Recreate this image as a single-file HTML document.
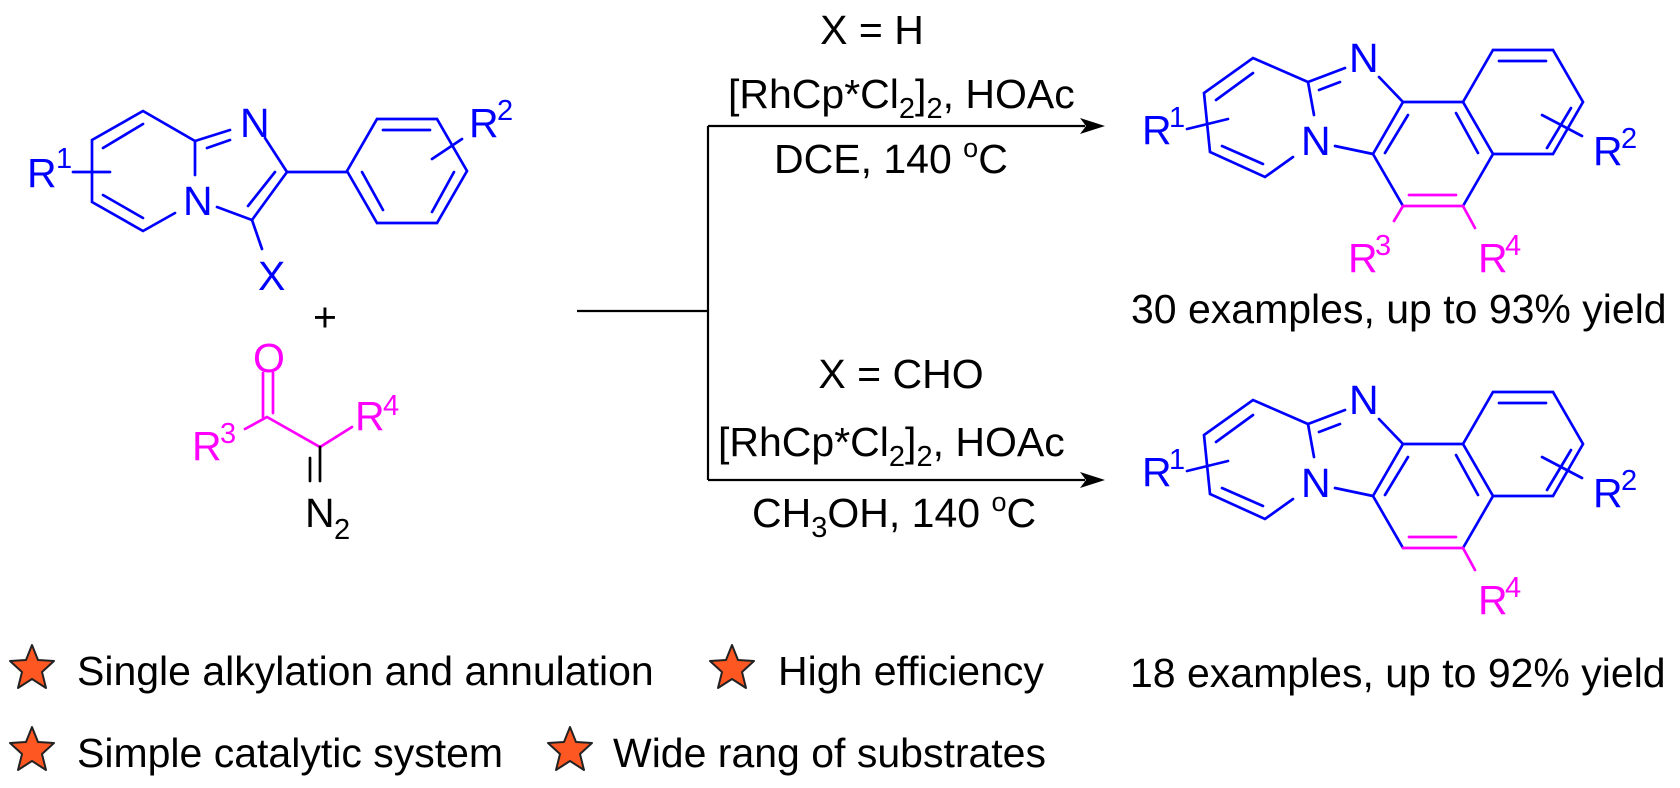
<!DOCTYPE html>
<html><head><meta charset="utf-8"><style>
html,body{margin:0;padding:0;background:#fff;}
svg{display:block;}
text{font-family:"Liberation Sans",Arial,sans-serif;}
</style></head><body>
<svg width="1680" height="788" viewBox="0 0 1680 788" xmlns="http://www.w3.org/2000/svg">
<defs>
<g id="star">
<polygon points="0,-23 6,-8 22,-7 10,4 14,20 0,11 -14,20 -10,4 -22,-7 -6,-8" fill="#ff5722" stroke="#222" stroke-width="2" stroke-linejoin="round"/>
</g>
</defs>

<!-- LEFT reactant 1 -->
<g stroke="#0000ff" stroke-width="2.7" fill="none" stroke-linecap="round">
<polyline points="195,141 143,111 92,140 92,202 143,231 175,213"/>
<line x1="195" y1="141" x2="195" y2="175"/>
<line x1="195" y1="141" x2="230" y2="130"/>
<line x1="207" y1="148" x2="230" y2="140"/>
<line x1="103" y1="148" x2="143" y2="124"/>
<line x1="103" y1="195" x2="143" y2="218"/>
<line x1="265" y1="138" x2="287" y2="172"/>
<line x1="287" y1="172" x2="252" y2="220"/>
<line x1="275" y1="172" x2="248" y2="206"/>
<line x1="217" y1="207" x2="252" y2="220"/>
<line x1="252" y1="220" x2="262" y2="249"/>
<line x1="287" y1="172" x2="347" y2="172"/>
<line x1="73" y1="172" x2="110" y2="172"/>
<polygon points="347,171 377,119 437,119 467,171 437,223 377,223"/>
<line x1="383" y1="130" x2="430" y2="130"/>
<line x1="362" y1="172" x2="383" y2="210"/>
<line x1="454" y1="172" x2="432" y2="212"/>
<line x1="432" y1="159" x2="462" y2="139"/>
</g>
<g fill="#0000ff" font-size="41">
<text x="240" y="137">N</text>
<text x="183" y="215">N</text>
<text x="258" y="290">X</text>
<text x="27" y="187">R</text><text x="56" y="168" font-size="29">1</text>
<text x="469" y="137">R</text><text x="497" y="120" font-size="29">2</text>
</g>
<text x="325" y="331" font-size="41" text-anchor="middle">+</text>

<!-- diazo -->
<g stroke="#ff00ff" stroke-width="2.7" fill="none" stroke-linecap="round">
<line x1="263" y1="373" x2="263" y2="417"/>
<line x1="273" y1="373" x2="273" y2="413"/>
<polyline points="245,429 267,417 320,447 352,427"/>
</g>
<g stroke="#000" stroke-width="2.7" stroke-linecap="round">
<line x1="320" y1="447" x2="320" y2="481"/>
<line x1="310" y1="458" x2="310" y2="481"/>
</g>
<g fill="#ff00ff" font-size="41">
<text x="253" y="372">O</text>
<text x="192" y="460">R</text><text x="220" y="443" font-size="29">3</text>
<text x="355" y="430">R</text><text x="383" y="415" font-size="29">4</text>
</g>
<text x="305" y="527" font-size="41">N</text><text x="334" y="539" font-size="29">2</text>

<!-- arrows -->
<g stroke="#000" stroke-width="2.2" fill="none">
<line x1="577" y1="311" x2="708" y2="311"/>
<line x1="708" y1="126" x2="708" y2="480"/>
<line x1="708" y1="126" x2="1085" y2="126"/>
<line x1="708" y1="480" x2="1085" y2="480"/>
</g>
<polygon points="1105,126 1080,118 1086,126 1080,134" fill="#000"/>
<polygon points="1105,480 1080,472 1086,480 1080,488" fill="#000"/>

<g font-size="41" fill="#000">
<text x="872" y="44" text-anchor="middle">X = H</text>
<text x="728" y="108">[RhCp*Cl<tspan font-size="29" dy="10">2</tspan><tspan dy="-10">]</tspan><tspan font-size="29" dy="10">2</tspan><tspan dy="-10">, HOAc</tspan></text>
<text x="774" y="173">DCE, 140 <tspan font-size="27" dy="-16">o</tspan><tspan dy="16">C</tspan></text>
<text x="901" y="388" text-anchor="middle">X = CHO</text>
<text x="718" y="456">[RhCp*Cl<tspan font-size="29" dy="10">2</tspan><tspan dy="-10">]</tspan><tspan font-size="29" dy="10">2</tspan><tspan dy="-10">, HOAc</tspan></text>
<text x="752" y="527">CH<tspan font-size="29" dy="10">3</tspan><tspan dy="-10">OH, 140 </tspan><tspan font-size="27" dy="-16">o</tspan><tspan dy="16">C</tspan></text>
<text x="1131" y="323">30 examples, up to 93% yield</text>
<text x="1130" y="687">18 examples, up to 92% yield</text>
</g>

<!-- product template -->
<g id="prod">
<g stroke="#0000ff" stroke-width="2.7" fill="none" stroke-linecap="round">
<polyline points="1308,82 1253,58 1204,93 1210,152 1265,177 1293,157"/>
<line x1="1308" y1="82" x2="1314" y2="115"/>
<line x1="1308" y1="82" x2="1345" y2="68"/>
<line x1="1319" y1="90" x2="1340" y2="82"/>
<line x1="1216" y1="100" x2="1253" y2="73"/>
<line x1="1222" y1="146" x2="1263" y2="164"/>
<line x1="1379" y1="77" x2="1403" y2="102"/>
<line x1="1335" y1="146" x2="1373" y2="154"/>
<polyline points="1403,206 1373,154 1403,102 1463,102 1493,154 1463,206"/>
<line x1="1408" y1="115" x2="1385" y2="153"/>
<line x1="1478" y1="153" x2="1456" y2="113"/>
<polyline points="1463,102 1493,50 1553,50 1583,102 1553,154 1493,154"/>
<line x1="1499" y1="61" x2="1546" y2="61"/>
<line x1="1571" y1="108" x2="1547" y2="148"/>
<line x1="1187" y1="129" x2="1228" y2="119"/>
<line x1="1542" y1="115" x2="1582" y2="136"/>
</g>
<g stroke="#ff00ff" stroke-width="2.7" fill="none" stroke-linecap="round">
<line x1="1403" y1="206" x2="1463" y2="206"/>
<line x1="1409" y1="195" x2="1456" y2="195"/>
<line x1="1463" y1="206" x2="1475" y2="228"/>
</g>
<g fill="#0000ff" font-size="41">
<text x="1349" y="72">N</text>
<text x="1301" y="155">N</text>
<text x="1142" y="144">R</text><text x="1169" y="127" font-size="29">1</text>
<text x="1593" y="165">R</text><text x="1621" y="148" font-size="29">2</text>
</g>
<g fill="#ff00ff" font-size="41">
<text x="1478" y="272">R</text><text x="1505" y="255" font-size="29">4</text>
</g>
</g>
<g stroke="#ff00ff" stroke-width="2.7" stroke-linecap="round">
<line x1="1403" y1="206" x2="1394" y2="221"/>
</g>
<g fill="#ff00ff" font-size="41">
<text x="1348" y="272">R</text><text x="1375" y="255" font-size="29">3</text>
</g>
<use href="#prod" transform="translate(0,342)"/>

<!-- bullets -->
<use href="#star" transform="translate(32,668)"/>
<use href="#star" transform="translate(732,668)"/>
<use href="#star" transform="translate(32,750)"/>
<use href="#star" transform="translate(570,750)"/>
<g font-size="41" fill="#000">
<text x="77" y="685">Single alkylation and annulation</text>
<text x="778" y="685">High efficiency</text>
<text x="77" y="767">Simple catalytic system</text>
<text x="613" y="767">Wide rang of substrates</text>
</g>
</svg>
</body></html>
